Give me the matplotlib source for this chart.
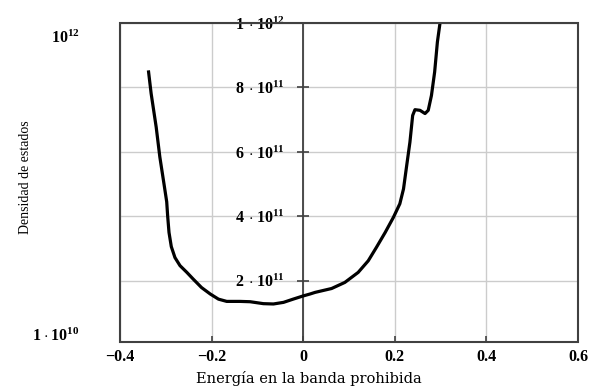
import numpy as np
import matplotlib
matplotlib.use("Agg")
import matplotlib.pyplot as plt
from matplotlib.patches import Rectangle

plt.rcParams['font.family'] = ['Liberation Serif', 'DejaVu Serif']
plt.rcParams['mathtext.fontset'] = 'custom'
plt.rcParams['mathtext.rm'] = 'Liberation Serif'
plt.rcParams['mathtext.bf'] = 'Liberation Serif:bold'

# Data (energy, density of states)
energia = [-0.338, -0.332, -0.321, -0.313, -0.304, -0.298, -0.296, -0.293, -0.288,
           -0.280, -0.269, -0.254, -0.240, -0.222, -0.203, -0.185, -0.167, -0.138,
           -0.116, -0.087, -0.065, -0.043, -0.022, 0.0, 0.015, 0.026, 0.062, 0.091,
           0.120, 0.142, 0.160, 0.179, 0.197, 0.211, 0.219, 0.226, 0.233, 0.239,
           0.244, 0.255, 0.266, 0.273, 0.280, 0.287, 0.293, 0.299]
densidad = [8.53e11, 7.81e11, 6.77e11, 5.84e11, 5.01e11, 4.45e11, 4.02e11, 3.50e11,
            3.06e11, 2.72e11, 2.47e11, 2.26e11, 2.05e11, 1.79e11, 1.59e11, 1.43e11,
            1.36e11, 1.36e11, 1.35e11, 1.29e11, 1.28e11, 1.33e11, 1.43e11, 1.53e11,
            1.59e11, 1.64e11, 1.76e11, 1.95e11, 2.26e11, 2.62e11, 3.04e11, 3.50e11,
            3.97e11, 4.39e11, 4.85e11, 5.58e11, 6.30e11, 7.13e11, 7.31e11, 7.29e11,
            7.19e11, 7.29e11, 7.75e11, 8.48e11, 9.41e11, 1.003e12]

xticks = [-0.4, -0.2, 0, 0.2, 0.4, 0.6]
xtick_labels = ['\u22120.4', '\u22120.2', '0', '0.2', '0.4', '0.6']
yticks = [2e11, 4e11, 6e11, 8e11, 1e12]
ytick_labels = [r'$\mathbf{2\,\cdot10^{11}}$', r'$\mathbf{4\,\cdot10^{11}}$',
                r'$\mathbf{6\,\cdot10^{11}}$', r'$\mathbf{8\,\cdot10^{11}}$',
                r'$\mathbf{1\,\cdot10^{12}}$']

fig = plt.figure(figsize=(5.92, 3.86), dpi=100)
ax = fig.add_axes([120 / 592, 1 - 342 / 386, 458 / 592, 319 / 386])

ax.set_xlim(-0.4, 0.6)
ax.set_ylim(1e10, 1e12)

ax.grid(True, color='#cccccc', linewidth=1.0)
ax.set_axisbelow(True)

ax.plot(energia, densidad, color='black', linewidth=2.3, zorder=3,
        solid_joinstyle='round', solid_capstyle='butt')

frame_color = '#404040'
ax.spines['left'].set_position(('data', 0))
for s in ax.spines.values():
    s.set_color(frame_color)
    s.set_linewidth(1.3)
ax.add_patch(Rectangle((0, 0), 1, 1, transform=ax.transAxes, fill=False,
                       edgecolor=frame_color, linewidth=1.5, zorder=4, clip_on=False))

ax.set_xticks(xticks)
ax.set_xticklabels(xtick_labels, fontweight='bold', fontsize=11.5)
ax.set_yticks(yticks)
ax.set_yticklabels(ytick_labels, fontsize=11.5)
ax.tick_params(axis='x', direction='in', length=4, width=1.2, color=frame_color, pad=5)
ax.tick_params(axis='y', direction='inout', length=8, width=1.2, color=frame_color, pad=9)

ax.set_xlabel('Energía en la banda prohibida', fontsize=10.5, family='DejaVu Serif')
ax.xaxis.set_label_coords(0.413, -0.09)
ax.set_ylabel('Densidad de estados', fontsize=10)
ax.yaxis.set_label_coords(-0.192, 0.517)

ax.annotate(r'$\mathbf{10^{12}}$', xy=(0, 1), xycoords='axes fraction',
            xytext=(-29, -11), textcoords='offset points', ha='right', va='center',
            fontsize=11.5)
ax.annotate(r'$\mathbf{1\cdot10^{10}}$', xy=(0, 0), xycoords='axes fraction',
            xytext=(-29, 4), textcoords='offset points', ha='right', va='center',
            fontsize=11.5)

fig.savefig('out.png', dpi=100)
